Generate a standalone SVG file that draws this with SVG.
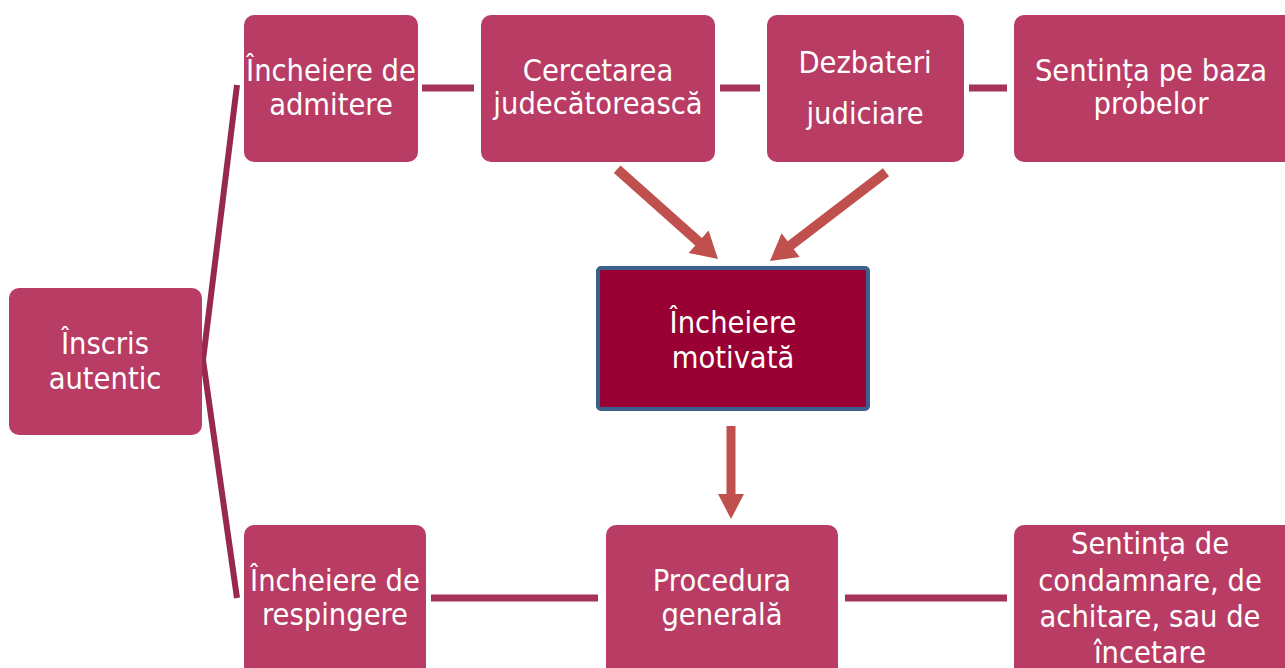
<svg xmlns="http://www.w3.org/2000/svg" width="1285" height="668" viewBox="0 0 1285 668">
<defs>
<style>
.n{fill:#B83C64;}
.t{font-family:"DejaVu Sans Condensed","DejaVu Sans",sans-serif;font-size:30.5px;fill:#FFFFFF;text-anchor:middle;}
.c{stroke:#A5335A;stroke-width:7;fill:none;}
.a{fill:#C0504D;}
</style>
</defs>
<rect width="1285" height="668" fill="#FFFFFF"/>
<g id="connectors">
<path d="M237,85 L203,360 L237,598" fill="none" stroke="#97294F" stroke-width="6" stroke-linejoin="miter"/>
<line class="c" x1="422" y1="88" x2="474" y2="88"/>
<line class="c" x1="720" y1="88" x2="760" y2="88"/>
<line class="c" x1="969" y1="88" x2="1007" y2="88"/>
<line class="c" x1="431" y1="598" x2="598" y2="598"/>
<line class="c" x1="845" y1="598" x2="1007" y2="598"/>
<polygon class="a" transform="translate(718,259) rotate(41.7)" points="0,0 -26,-15 -26,-5 -135,-5 -135,5 -26,5 -26,15"/>
<polygon class="a" transform="translate(770,261) rotate(142.6)" points="0,0 -26,-15 -26,-5 -146,-5 -146,5 -26,5 -26,15"/>
<polygon class="a" transform="translate(731,519) rotate(90)" points="0,0 -25,-13 -25,-4.5 -93,-4.5 -93,4.5 -25,4.5 -25,13"/>
</g>
<g id="inscris">
<rect class="n" x="9" y="288" width="193" height="147" rx="10"/>
<text class="t" x="105" y="354">Înscris</text>
<text class="t" x="105" y="389">autentic</text>
</g>
<g id="admitere">
<rect class="n" x="244" y="15" width="174" height="147" rx="10"/>
<text class="t" x="331" y="81">Încheiere de</text>
<text class="t" x="331" y="115">admitere</text>
</g>
<g id="cercetarea">
<rect class="n" x="481" y="15" width="234" height="147" rx="10"/>
<text class="t" x="598" y="81">Cercetarea</text>
<text class="t" x="598" y="114">judecătorească</text>
</g>
<g id="dezbateri">
<rect class="n" x="767" y="15" width="197" height="147" rx="10"/>
<text class="t" x="865" y="73">Dezbateri</text>
<text class="t" x="865" y="124">judiciare</text>
</g>
<g id="sentinta-probe">
<rect class="n" x="1014" y="15" width="281" height="147" rx="10"/>
<text class="t" x="1151" y="81">Sentința pe baza</text>
<text class="t" x="1151" y="114">probelor</text>
</g>
<g id="motivata">
<rect x="598" y="268" width="270" height="141" rx="3" fill="#990033" stroke="#3D5F8C" stroke-width="4"/>
<text class="t" x="733" y="333">Încheiere</text>
<text class="t" x="733" y="368">motivată</text>
</g>
<g id="respingere">
<rect class="n" x="244" y="525" width="182" height="160" rx="10"/>
<text class="t" x="335" y="591">Încheiere de</text>
<text class="t" x="335" y="625">respingere</text>
</g>
<g id="procedura">
<rect class="n" x="606" y="525" width="232" height="160" rx="10"/>
<text class="t" x="722" y="591">Procedura</text>
<text class="t" x="722" y="625">generală</text>
</g>
<g id="sentinta-condamnare">
<rect class="n" x="1014" y="525" width="281" height="160" rx="10"/>
<text class="t" x="1150" y="554">Sentința de</text>
<text class="t" x="1150" y="591">condamnare, de</text>
<text class="t" x="1150" y="627">achitare, sau de</text>
<text class="t" x="1150" y="663">încetare</text>
</g>
</svg>
